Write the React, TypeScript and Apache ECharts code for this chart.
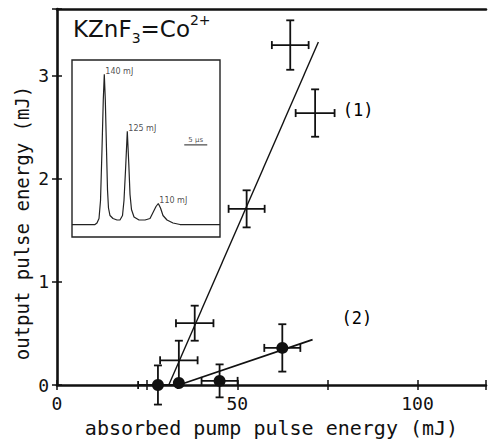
import React, { useEffect, useRef } from "react";
import * as echarts from "echarts";

// ---------- main plot data ----------
const xTickLabels = [0, 50, 100];
const yTickLabels = [0, 1, 2, 3];

// curve (1): crosses  [x, y, xErr, yErr]
const s1X = [33.8, 38.2, 52.6, 64.7, 71.6];
const s1Y = [0.24, 0.6, 1.71, 3.3, 2.64];
const s1XErr = [5.2, 5.2, 5.0, 5.1, 5.4];
const s1YErr = [0.19, 0.17, 0.18, 0.24, 0.23];

// curve (2): filled circles
const s2X = [28.0, 33.8, 45.1, 62.5];
const s2Y = [0.0, 0.02, 0.04, 0.36];
const s2XErr = [5.5, 0, 5.0, 5.0];
const s2YErr = [0.19, 0, 0.16, 0.23];

// fitted straight lines
const fit1X = [31.0, 72.5];
const fit1Y = [0.0, 3.33];
const fit2X = [33.8, 70.9];
const fit2Y = [0.0, 0.44];

const curveNames = ["(1)", "(2)"];
const curveNameX = [83.5, 83.2];
const curveNameY = [2.67, 0.65];

// ---------- inset (oscillogram) data ----------
const traceT = [0, 5.0, 5.43, 5.87, 6.2, 6.52, 6.8, 7.02, 7.24, 7.5, 7.72, 7.93, 8.26, 8.91, 9.78, 10.43, 10.98, 11.3, 11.63, 12.02, 12.35, 12.61, 12.93, 13.48, 14.57, 15.87, 16.96, 17.61, 18.26, 18.76, 19.24, 19.78, 20.65, 21.96, 23.48, 32.17];
const traceV = [0, 0.0, 0.01, 0.04, 0.16, 0.5, 0.83, 1.0, 0.83, 0.5, 0.23, 0.11, 0.06, 0.04, 0.03, 0.03, 0.06, 0.16, 0.36, 0.62, 0.4, 0.2, 0.1, 0.05, 0.03, 0.03, 0.04, 0.08, 0.12, 0.14, 0.11, 0.06, 0.03, 0.01, 0.0, 0.0];
const peakT = [7.02, 12.02, 18.76];
const peakV = [1.0, 0.62, 0.14];
const peakLabels = ["140 mJ", "125 mJ", "110 mJ"];
const scaleBarT = [24.4, 29.4];
const scaleBarV = 0.53;
const scaleBarLabel = "5 µs";

const INK = "#111111";
const MONO = "DejaVu Sans Mono";

function makeErr(withDot: boolean) {
  return (_params: any, api: any) => {
    const x = api.value(0);
    const y = api.value(1);
    const xe = api.value(2);
    const ye = api.value(3);
    const c = api.coord([x, y]);
    const cap = 4;
    const st = { stroke: INK, lineWidth: 1.8 };
    const ch: any[] = [];
    if (xe > 0) {
      const l = api.coord([x - xe, y]);
      const r = api.coord([x + xe, y]);
      ch.push({ type: "line", shape: { x1: l[0], y1: l[1], x2: r[0], y2: r[1] }, style: st });
      ch.push({ type: "line", shape: { x1: l[0], y1: l[1] - cap, x2: l[0], y2: l[1] + cap }, style: st });
      ch.push({ type: "line", shape: { x1: r[0], y1: r[1] - cap, x2: r[0], y2: r[1] + cap }, style: st });
    }
    if (ye > 0) {
      const t = api.coord([x, y + ye]);
      const b = api.coord([x, y - ye]);
      ch.push({ type: "line", shape: { x1: t[0], y1: t[1], x2: b[0], y2: b[1] }, style: st });
      ch.push({ type: "line", shape: { x1: t[0] - cap, y1: t[1], x2: t[0] + cap, y2: t[1] }, style: st });
      ch.push({ type: "line", shape: { x1: b[0] - cap, y1: b[1], x2: b[0] + cap, y2: b[1] }, style: st });
    }
    if (withDot) {
      ch.push({ type: "circle", shape: { cx: c[0], cy: c[1], r: 6 }, style: { fill: INK } });
    }
    return { type: "group", children: ch };
  };
}

export default function App() {
  const ref = useRef<HTMLDivElement>(null);
  useEffect(() => {
    if (!ref.current) return;
    const chart = echarts.init(ref.current, null, { renderer: "svg" });
    const s1 = s1X.map((x, i) => [x, s1Y[i], s1XErr[i], s1YErr[i]]);
    const s2 = s2X.map((x, i) => [x, s2Y[i], s2XErr[i], s2YErr[i]]);
    const f1 = fit1X.map((x, i) => [x, fit1Y[i]]);
    const f2 = fit2X.map((x, i) => [x, fit2Y[i]]);
    const names = curveNames.map((n, i) => ({ value: [curveNameX[i], curveNameY[i]], name: n }));
    const trace = traceT.map((t, i) => [t, traceV[i]]);
    const peaks = peakT.map((t, i) => ({ value: [t, peakV[i]], name: peakLabels[i] }));
    const bar = scaleBarT.map((t) => [t, scaleBarV]);
    const barMid = [{ value: [(scaleBarT[0] + scaleBarT[1]) / 2, scaleBarV], name: scaleBarLabel }];

    const axLine = { show: true, lineStyle: { color: INK, width: 2.6 } };
    const tick = { show: true, length: 5, lineStyle: { color: INK, width: 1.5 } };

    chart.setOption({
      animation: false,
      backgroundColor: "#ffffff",
      grid: [
        { left: 57, top: 9, width: 432, height: 376, show: false },
        { left: 72, top: 60, width: 148, height: 177, show: true, borderColor: "#222", borderWidth: 1.4, backgroundColor: "#ffffff", z: 3 },
      ],
      xAxis: [
        {
          type: "value", gridIndex: 0, min: 0, max: 119, interval: 25, position: "bottom",
          axisLine: axLine, axisTick: tick, splitLine: { show: false },
          axisLabel: {
            margin: 9, color: INK, fontFamily: MONO, fontSize: 18,
            formatter: (v: number) => (xTickLabels.includes(v) ? String(v) : ""),
          },
          name: "absorbed pump pulse energy (mJ)", nameLocation: "middle", nameGap: 33,
          nameTextStyle: { color: INK, fontFamily: MONO, fontSize: 20 },
        },
        {
          type: "value", gridIndex: 0, min: 0, max: 119, interval: 25, position: "bottom",
          axisLine: { show: false }, axisTick: { ...tick, inside: true }, axisLabel: { show: false }, splitLine: { show: false },
        },
        {
          type: "value", gridIndex: 0, min: 0, max: 119, position: "top",
          axisLine: axLine, axisTick: { show: false }, axisLabel: { show: false }, splitLine: { show: false },
        },
        { type: "value", gridIndex: 1, min: 0, max: 32.17, show: false },
      ],
      yAxis: [
        {
          type: "value", gridIndex: 0, min: 0, max: 3.65, interval: 1, position: "left",
          axisLine: axLine, axisTick: tick, splitLine: { show: false },
          axisLabel: {
            margin: 8, color: INK, fontFamily: MONO, fontSize: 18,
            formatter: (v: number) => (yTickLabels.includes(v) ? String(v) : ""),
          },
        },
        {
          type: "value", gridIndex: 0, min: 0, max: 3.65, interval: 1, position: "left",
          axisLine: { show: false }, axisTick: { ...tick, inside: true }, axisLabel: { show: false }, splitLine: { show: false },
        },
        { type: "value", gridIndex: 1, min: -0.083, max: 1.095, show: false },
      ],
      series: [
        { type: "line", xAxisIndex: 0, yAxisIndex: 0, data: f1, symbol: "none", silent: true, lineStyle: { color: INK, width: 1.4 } },
        { type: "line", xAxisIndex: 0, yAxisIndex: 0, data: f2, symbol: "none", silent: true, lineStyle: { color: INK, width: 1.8 } },
        { type: "custom", xAxisIndex: 0, yAxisIndex: 0, data: s1, renderItem: makeErr(false), silent: true },
        { type: "custom", xAxisIndex: 0, yAxisIndex: 0, data: s2, renderItem: makeErr(true), silent: true },
        {
          type: "scatter", xAxisIndex: 0, yAxisIndex: 0, data: names, symbolSize: 0, silent: true,
          itemStyle: { color: INK, opacity: 1 },
          label: { show: true, position: "inside", formatter: (p: any) => p.name, color: "#000000", opacity: 1, fontFamily: MONO, fontSize: 17 },
        },
        { type: "line", xAxisIndex: 3, yAxisIndex: 2, data: trace, symbol: "none", silent: true, z: 5, lineStyle: { color: "#222", width: 1.2 } },
        {
          type: "scatter", xAxisIndex: 3, yAxisIndex: 2, data: peaks, symbolSize: 0, silent: true, z: 5,
          label: { show: true, position: "right", distance: 1, offset: [0, -3], formatter: (p: any) => p.name, color: "#222", fontFamily: "DejaVu Sans", fontSize: 8 },
        },
        { type: "line", xAxisIndex: 3, yAxisIndex: 2, data: bar, symbol: "none", silent: true, z: 5, lineStyle: { color: "#222", width: 1 } },
        {
          type: "scatter", xAxisIndex: 3, yAxisIndex: 2, data: barMid, symbolSize: 0, silent: true, z: 5,
          label: { show: true, position: "top", distance: 1, formatter: (p: any) => p.name, color: "#222", fontFamily: "DejaVu Sans", fontSize: 7 },
        },
      ],
      graphic: [
        {
          type: "text", x: 73, y: 13, z: 10,
          style: {
            text: "{a|KZnF}{s|3}{a|=Co}{p|2+}",
            fill: INK,
            rich: {
              a: { fontFamily: "DejaVu Sans", fontSize: 23, color: INK, lineHeight: 32, verticalAlign: "middle" },
              s: { fontFamily: "DejaVu Sans", fontSize: 14, color: INK, lineHeight: 32, verticalAlign: "bottom" },
              p: { fontFamily: "DejaVu Sans", fontSize: 14, color: INK, lineHeight: 32, verticalAlign: "top" },
            },
          },
        },
        {
          type: "text", x: 22, y: 223, rotation: Math.PI / 2, z: 10,
          style: { text: "output pulse energy (mJ)", fill: INK, fontFamily: MONO, fontSize: 19, align: "center", verticalAlign: "middle" },
        },
      ],
    });
    return () => chart.dispose();
  }, []);
  return <div ref={ref} style={{ position: "absolute", left: 0, top: 0, width: 489, height: 444 }} />;
}
